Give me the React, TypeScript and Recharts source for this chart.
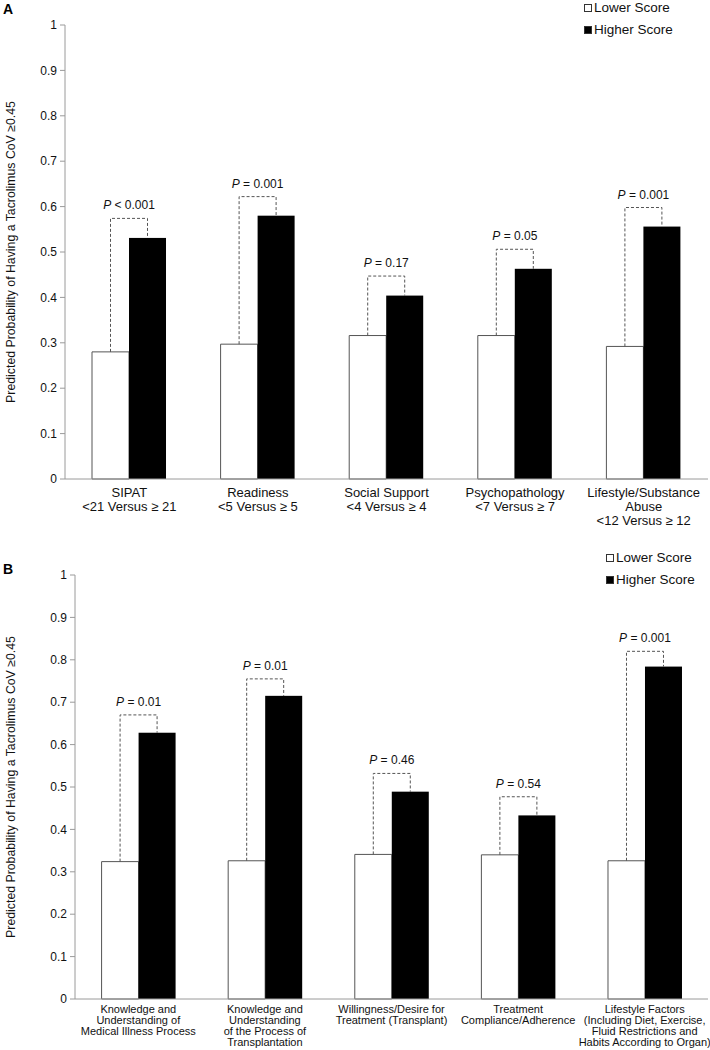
import React from "react";
import { BarChart, Bar, XAxis, YAxis, Legend, Label } from "recharts";

// Panel A: SIPAT total and subscales
const categoriesA = [
  "SIPAT\n<21 Versus ≥ 21",
  "Readiness\n<5 Versus ≥ 5",
  "Social Support\n<4 Versus ≥ 4",
  "Psychopathology\n<7 Versus ≥ 7",
  "Lifestyle/Substance\nAbuse\n<12 Versus ≥ 12",
];
const lowerA = [0.28, 0.297, 0.316, 0.316, 0.292];
const higherA = [0.531, 0.58, 0.404, 0.463, 0.556];
const bracketA = [0.574, 0.622, 0.447, 0.506, 0.598];
const pA = ["< 0.001", "= 0.001", "= 0.17", "= 0.05", "= 0.001"];

// Panel B: individual items
const categoriesB = [
  "Knowledge and\nUnderstanding of\nMedical Illness Process",
  "Knowledge and\nUnderstanding\nof the Process of\nTransplantation",
  "Willingness/Desire for\nTreatment (Transplant)",
  "Treatment\nCompliance/Adherence",
  "Lifestyle Factors\n(Including Diet, Exercise,\nFluid Restrictions and\nHabits According to Organ)",
];
const lowerB = [0.324, 0.326, 0.341, 0.34, 0.326];
const higherB = [0.628, 0.715, 0.489, 0.433, 0.784];
const bracketB = [0.67, 0.755, 0.532, 0.477, 0.82];
const pB = ["= 0.01", "= 0.01", "= 0.46", "= 0.54", "= 0.001"];

const yTicks = [0, 0.1, 0.2, 0.3, 0.4, 0.5, 0.6, 0.7, 0.8, 0.9, 1];
const seriesNames = ["Lower Score", "Higher Score"];

const FONT = "'Liberation Sans', Arial, Helvetica, sans-serif";
const AXIS = "#9a9a9a";
const Y_TITLE = "Predicted Probability of Having a Tacrolimus CoV ≥0.45";

type Row = { name: string; low: number; high: number; bracket: number; p: string };

const build = (cats: string[], low: number[], high: number[], br: number[], p: string[]): Row[] =>
  cats.map((name, i) => ({ name, low: low[i], high: high[i], bracket: br[i], p: p[i] }));

const dataA = build(categoriesA, lowerA, higherA, bracketA, pA);
const dataB = build(categoriesB, lowerB, higherB, bracketB, pB);

// black bar + dashed bracket + P label, positioned from the bar's own scale
function HighShape(props: any) {
  const { x, y, width, height, payload } = props;
  const base = y + height;
  const per = height / payload.high;
  const wx = x - width / 2;
  const bx = x + width / 2;
  const topY = base - payload.bracket * per;
  const lowY = base - payload.low * per;
  return (
    <g>
      <rect x={x} y={y} width={width} height={height} fill="#000" />
      <path
        d={`M${wx},${lowY}V${topY}H${bx}V${y}`}
        stroke="#555"
        strokeDasharray="3 2"
        fill="none"
      />
      <text x={x} y={topY - 9} textAnchor="middle" fontSize={12} fontFamily={FONT} fill="#111">
        <tspan fontStyle="italic">P</tspan> {payload.p}
      </text>
    </g>
  );
}

function makeTick(fs: number, first: number, lh: number) {
  return (props: any) => {
    const { x, y, payload } = props;
    const lines = String(payload.value).split("\n");
    return (
      <text x={x} y={y} textAnchor="middle" fontSize={fs} fontFamily={FONT} fill="#111">
        {lines.map((l, i) => (
          <tspan key={i} x={x} dy={i === 0 ? first : lh}>
            {l}
          </tspan>
        ))}
      </text>
    );
  };
}

function makeLegend(fs: number, rowH: number) {
  return (props: any) => {
    const items = [...(props.payload || [])].sort(
      (a: any, b: any) => seriesNames.indexOf(a.value) - seriesNames.indexOf(b.value)
    );
    return (
      <div style={{ fontFamily: FONT, fontSize: fs, color: "#111" }}>
        {items.map((it: any) => (
          <div key={it.value} style={{ height: rowH, lineHeight: `${rowH}px`, display: "flex", alignItems: "center" }}>
            <span
              style={{
                display: "inline-block",
                width: 6,
                height: 6,
                background: it.color,
                border: "1px solid #333",
                marginRight: 2,
              }}
            />
            {it.value}
          </div>
        ))}
      </div>
    );
  };
}

function YTitle(cx: number, shift: number, fs: number) {
  return (props: any) => {
    const vb = props.viewBox || {};
    const cy = vb.y + vb.height / 2 + shift;
    return (
      <text
        x={cx}
        y={cy}
        transform={`rotate(-90 ${cx} ${cy})`}
        textAnchor="middle"
        fontSize={fs}
        fontFamily={FONT}
        fill="#111"
      >
        {Y_TITLE}
      </text>
    );
  };
}

function Panel({
  data,
  height,
  margin,
  yWidth,
  xHeight,
  tick,
  legendPos,
  legendFs,
}: {
  data: Row[];
  height: number;
  margin: { top: number; right: number; left: number; bottom: number };
  yWidth: number;
  xHeight: number;
  tick: (p: any) => React.ReactElement;
  legendPos: { left: number; top: number };
  legendFs: number;
}) {
  return (
    <BarChart width={710} height={height} data={data} margin={margin} barGap={0} barCategoryGap="21%">
      <XAxis
        dataKey="name"
        interval={0}
        tickLine={false}
        tickSize={0}
        tickMargin={0}
        height={xHeight}
        stroke={AXIS}
        tick={tick}
      />
      <YAxis
        domain={[0, 1]}
        ticks={yTicks}
        width={yWidth}
        stroke={AXIS}
        tickSize={5}
        tickMargin={3}
        tick={{ fill: "#111", fontSize: 12, fontFamily: FONT }}
      >
        <Label content={YTitle(15, 0, 12.3)} />
      </YAxis>
      <Legend
        layout="horizontal"
        verticalAlign="middle"
        align="center"
        wrapperStyle={{ left: legendPos.left, top: legendPos.top, width: 130 }}
        content={makeLegend(legendFs, 22)}
      />
      <Bar dataKey="low" name={seriesNames[0]} fill="#fff" stroke="#555" strokeWidth={1} isAnimationActive={false} />
      <Bar dataKey="high" name={seriesNames[1]} fill="#000" shape={HighShape} isAnimationActive={false} />
    </BarChart>
  );
}

export default function App() {
  return (
    <div style={{ position: "absolute", left: 0, top: 0, width: 710, height: 1050, background: "#fff" }}>
      <div style={{ position: "absolute", left: 3, top: 1, fontFamily: FONT, fontWeight: "bold", fontSize: 14 }}>A</div>
      <div style={{ position: "absolute", left: 3, top: 561, fontFamily: FONT, fontWeight: "bold", fontSize: 14 }}>B</div>
      <div style={{ position: "absolute", left: 0, top: 0 }}>
        <Panel
          data={dataA}
          height={540}
          margin={{ top: 25, right: 2, left: 25, bottom: 15 }}
          yWidth={40}
          xHeight={46}
          tick={makeTick(13, 18, 14)}
          legendPos={{ left: 584, top: -3 }}
          legendFs={13.5}
        />
      </div>
      <div style={{ position: "absolute", left: 0, top: 540 }}>
        <Panel
          data={dataB}
          height={510}
          margin={{ top: 35, right: 2, left: 30, bottom: 0 }}
          yWidth={45}
          xHeight={51}
          tick={makeTick(11, 14, 11)}
          legendPos={{ left: 606, top: 7 }}
          legendFs={13.5}
        />
      </div>
    </div>
  );
}
